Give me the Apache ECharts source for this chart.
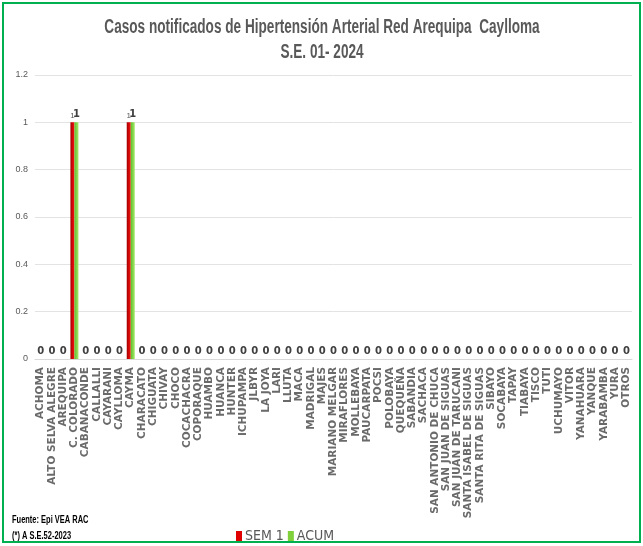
<!DOCTYPE html>
<html>
<head>
<meta charset="utf-8">
<script src="https://cdn.jsdelivr.net/npm/echarts@6/dist/echarts.min.js"></script>
<style>
  html, body { margin: 0; padding: 0; background: #fff; }
  #chart { width: 643px; height: 546px; }
</style>
</head>
<body>
<div id="chart"></div>
<script>
var categories = [
  "ACHOMA", "ALTO SELVA ALEGRE", "AREQUIPA", "C. COLORADO", "CABANACONDE",
  "CALLALLI", "CAYARANI", "CAYLLOMA", "CAYMA", "CHARACATO", "CHIGUATA",
  "CHIVAY", "CHOCO", "COCACHACRA", "COPORAQUE", "HUAMBO", "HUANCA", "HUNTER",
  "ICHUPAMPA", "JLBYR", "LA JOYA", "LARI", "LLUTA", "MACA", "MADRIGAL",
  "MAJES", "MARIANO MELGAR", "MIRAFLORES", "MOLLEBAYA", "PAUCARPATA", "POCSI",
  "POLOBAYA", "QUEQUEÑA", "SABANDIA", "SACHACA", "SAN ANTONIO DE CHUCA",
  "SAN JUAN DE SIGUAS", "SAN JUAN DE TARUCANI", "SANTA ISABEL DE SIGUAS",
  "SANTA RITA DE SIGUAS", "SIBAYO", "SOCABAYA", "TAPAY", "TIABAYA", "TISCO",
  "TUTI", "UCHUMAYO", "VITOR", "YANAHUARA", "YANQUE", "YARABAMBA", "YURA",
  "OTROS"
];
var sem1 = [0,0,0,1,0,0,0,0,1,0,0,0,0,0,0,0,0,0,0,0,0,0,0,0,0,0,0,0,0,0,0,0,0,0,0,0,0,0,0,0,0,0,0,0,0,0,0,0,0,0,0,0,0];
var acum = [0,0,0,1,0,0,0,0,1,0,0,0,0,0,0,0,0,0,0,0,0,0,0,0,0,0,0,0,0,0,0,0,0,0,0,0,0,0,0,0,0,0,0,0,0,0,0,0,0,0,0,0,0];
var yTicks = [0, 0.2, 0.4, 0.6, 0.8, 1, 1.2];

// zero labels sit centred on the category, non-zero ones over the green bar
var acumData = acum.map(function (v) {
  return { value: v, label: { offset: [v > 0 ? 0 : -2, 0] } };
});

var myChart = echarts.init(document.getElementById("chart"));
var option = {
  backgroundColor: "#ffffff",
  animation: false,
  graphic: [
    {
      type: "rect",
      shape: { x: 3, y: 3, width: 637, height: 539 },
      style: { fill: "none", stroke: "#00b050", lineWidth: 2 },
      z: 100
    },
    {
      type: "text",
      x: 322,
      y: 15,
      scaleX: 0.68,
      style: {
        text: "Casos notificados de Hipertensión Arterial Red Arequipa  Caylloma\nS.E. 01- 2024",
        align: "center",
        fill: "#595959",
        font: "bold 20px 'Liberation Sans'",
        lineHeight: 25
      }
    },
    {
      type: "text",
      x: 12,
      y: 512,
      scaleX: 0.68,
      style: {
        text: "Fuente: Epi VEA RAC\n(*) A S.E.52-2023",
        fill: "#000",
        font: "bold 11px 'Liberation Sans'",
        lineHeight: 16
      }
    }
  ],
  legend: {
    top: 524,
    left: 231,
    itemWidth: 6,
    itemHeight: 10,
    itemGap: 4,
    textStyle: { color: "#595959", fontSize: 14, fontFamily: "DejaVu Sans Condensed, Liberation Sans", padding: [0, 0, 0, -2] },
    data: [
      { name: "SEM 1", icon: "rect", itemStyle: { color: "#e00000" } },
      { name: "ACUM", icon: "rect", itemStyle: { color: "#7fd03a" } }
    ]
  },
  grid: {
    left: 35,
    right: 11,
    top: 75,
    bottom: 187
  },
  xAxis: {
    type: "category",
    data: categories,
    axisTick: { show: false },
    axisLine: { lineStyle: { color: "#d9d9d9" } },
    axisLabel: {
      interval: 0,
      rotate: 90,
      margin: 8,
      color: "#6a6a6a",
      fontFamily: "DejaVu Sans",
      fontWeight: "bold",
      fontSize: 10.5
    }
  },
  yAxis: {
    type: "value",
    min: 0,
    max: 1.2,
    interval: 0.2,
    axisLine: { show: false },
    axisTick: { show: false },
    splitLine: { lineStyle: { color: "#e3e3e3" } },
    axisLabel: {
      color: "#595959",
      fontSize: 9,
      fontFamily: "Liberation Sans",
      margin: 7,
      formatter: function (v) {
        var t = yTicks.filter(function (x) { return Math.abs(x - v) < 1e-6; });
        return t.length ? String(t[0]) : "";
      }
    }
  },
  series: [
    {
      name: "SEM 1",
      type: "bar",
      data: sem1,
      barWidth: 4,
      barGap: 0,
      itemStyle: {
        color: new echarts.graphic.LinearGradient(0, 0, 1, 0, [
          { offset: 0, color: "#a00000" },
          { offset: 1, color: "#ff1010" }
        ])
      },
      label: {
        show: true,
        position: "top",
        distance: 3,
        color: "#595959",
        fontSize: 8,
        formatter: function (p) { return p.value > 0 ? p.value : ""; }
      }
    },
    {
      name: "ACUM",
      type: "bar",
      data: acumData,
      barWidth: 4,
      barGap: 0,
      itemStyle: {
        color: new echarts.graphic.LinearGradient(0, 0, 1, 0, [
          { offset: 0, color: "#5cbf2a" },
          { offset: 1, color: "#a6e86a" }
        ])
      },
      label: {
        show: true,
        position: "top",
        distance: 3,
        color: "#404040",
        fontWeight: "bold",
        fontSize: 10,
        fontFamily: "DejaVu Sans"
      }
    }
  ]
};
myChart.setOption(option);
</script>
</body>
</html>
